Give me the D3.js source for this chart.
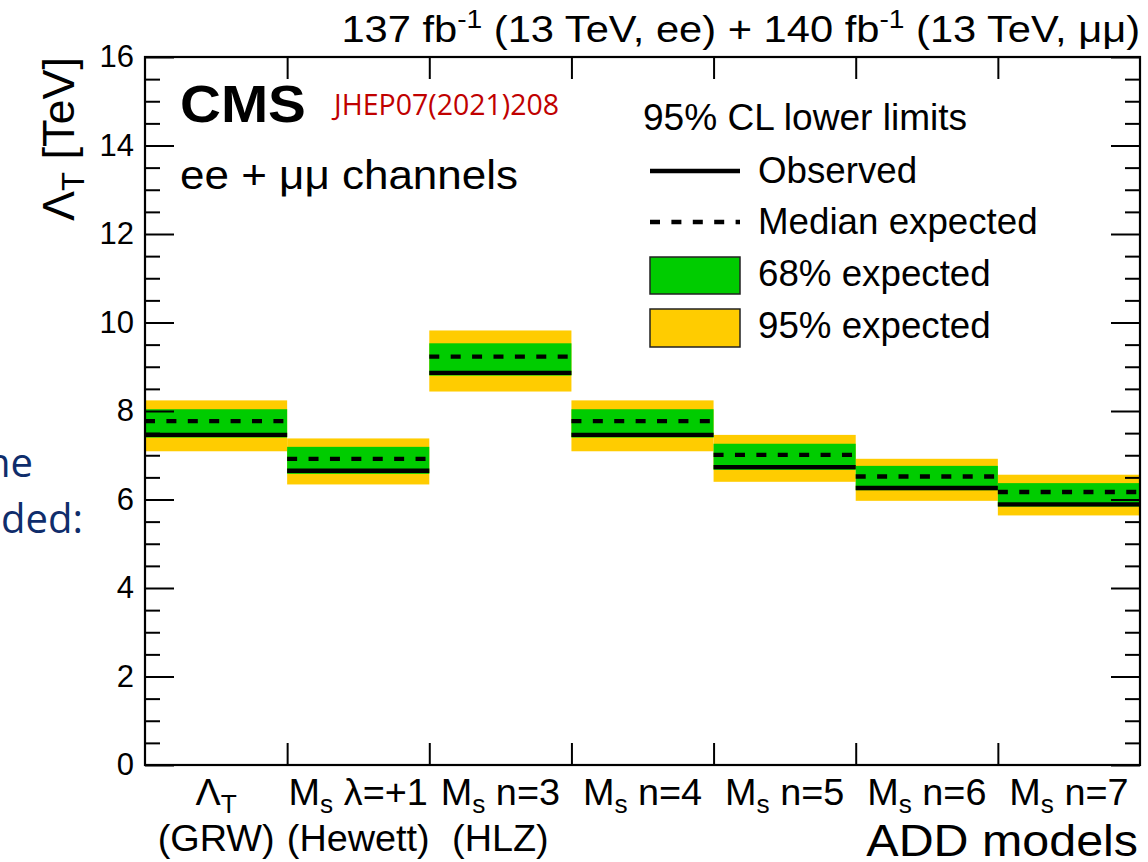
<!DOCTYPE html>
<html>
<head>
<meta charset="utf-8">
<script src="https://cdn.jsdelivr.net/npm/d3@7"></script>
<style>
  html, body { margin: 0; padding: 0; background: #fff; }
  svg { display: block; }
  text { font-family: "Liberation Sans", Arial, Helvetica, sans-serif; }
</style>
</head>
<body>
<svg id="chart" width="1148" height="862"></svg>
<script>
// ---------------- data ----------------
const categories = ["GRW", "Hewett", "HLZ n=3", "n=4", "n=5", "n=6", "n=7"];
const labelMain = ["", "λ=+1", "n=3", "n=4", "n=5", "n=6", "n=7"];   // after M_s (Λ_T for the first)
const labelSub = ["(GRW)", "(Hewett)", "(HLZ)", "", "", "", ""];
const observed = [7.46, 6.65, 8.86, 7.46, 6.73, 6.26, 5.89];
const expected = [7.77, 6.92, 9.23, 7.77, 7.01, 6.52, 6.17];
const band68Lo = [7.40, 6.58, 8.80, 7.40, 6.67, 6.21, 5.84];
const band68Hi = [8.04, 7.19, 9.53, 8.04, 7.26, 6.76, 6.37];
const band95Lo = [7.09, 6.34, 8.44, 7.09, 6.40, 5.97, 5.64];
const band95Hi = [8.24, 7.38, 9.82, 8.24, 7.46, 6.92, 6.56];
const yMajorTicks = [0, 2, 4, 6, 8, 10, 12, 14, 16];
const legendItems = ["Observed", "Median expected", "68% expected", "95% expected"];

// ---------------- layout ----------------
const svg = d3.select("#chart");
const L = 145, R = 1140, T = 57, B = 765;
const GREEN = "#00cc00", YELLOW = "#ffcc00", NAVY = "#0f2d6b";

const x = d3.scaleBand().domain(categories).range([L, R]).padding(0);
const xb = d3.scaleLinear().domain([0, categories.length]).range([L, R]);
const y = d3.scaleLinear().domain([0, 16]).range([B, T]);

svg.append("rect").attr("width", 1148).attr("height", 862).attr("fill", "#fff");

// helper: text with horizontal stretch
function stext(parent, px, py, sx, anchor, size) {
  return parent.append("text")
    .attr("transform", `translate(${px},${py}) scale(${sx},1)`)
    .attr("text-anchor", anchor || "start")
    .style("font-size", size + "px");
}

// slide text bleeding in from the left
stext(svg, 33, 477, 1.0, "end", 40).style("font-family", "'Open Sans', sans-serif").attr("fill", NAVY).text("he");
stext(svg, 83, 533, 1.0, "end", 40).style("font-family", "'Open Sans', sans-serif").attr("fill", NAVY).text("ded:");

// bands
const g = svg.append("g");
g.selectAll("rect.b95").data(categories).join("rect").attr("class", "b95")
  .attr("x", d => x(d)).attr("width", x.bandwidth())
  .attr("y", (d, i) => y(band95Hi[i])).attr("height", (d, i) => y(band95Lo[i]) - y(band95Hi[i]))
  .attr("fill", YELLOW);
g.selectAll("rect.b68").data(categories).join("rect").attr("class", "b68")
  .attr("x", d => x(d)).attr("width", x.bandwidth())
  .attr("y", (d, i) => y(band68Hi[i])).attr("height", (d, i) => y(band68Lo[i]) - y(band68Hi[i]))
  .attr("fill", GREEN);
g.selectAll("line.exp").data(categories).join("line").attr("class", "exp")
  .attr("x1", d => x(d)).attr("x2", d => x(d) + x.bandwidth())
  .attr("y1", (d, i) => y(expected[i])).attr("y2", (d, i) => y(expected[i]))
  .attr("stroke", "#000").attr("stroke-width", 4.3).attr("stroke-dasharray", "10,11.4");
g.selectAll("line.obs").data(categories).join("line").attr("class", "obs")
  .attr("x1", d => x(d)).attr("x2", d => x(d) + x.bandwidth())
  .attr("y1", (d, i) => y(observed[i])).attr("y2", (d, i) => y(observed[i]))
  .attr("stroke", "#000").attr("stroke-width", 4.3);

// axes
const minorTicks = d3.range(0, 16.001, 0.5).filter(v => Math.abs(v / 2 - Math.round(v / 2)) > 1e-6);
const yLeft = svg.append("g").attr("transform", `translate(${L},0)`)
  .call(d3.axisLeft(y).tickValues(yMajorTicks).tickSize(-29).tickPadding(11).tickFormat(d3.format("d")));
yLeft.select(".domain").remove();
yLeft.selectAll("text").style("font-size", "31px").style("font-family", "'Liberation Sans', Arial, sans-serif").attr("fill", "#000");
yLeft.selectAll("line").attr("stroke-width", 2);
const yLeftMinor = svg.append("g").attr("transform", `translate(${L},0)`)
  .call(d3.axisLeft(y).tickValues(minorTicks).tickSize(-15).tickFormat(""));
yLeftMinor.select(".domain").remove();
yLeftMinor.selectAll("line").attr("stroke-width", 2);

const yRight = svg.append("g").attr("transform", `translate(${R},0)`)
  .call(d3.axisRight(y).tickValues(yMajorTicks).tickSize(-29).tickFormat(""));
yRight.select(".domain").remove();
yRight.selectAll("line").attr("stroke-width", 2);
const yRightMinor = svg.append("g").attr("transform", `translate(${R},0)`)
  .call(d3.axisRight(y).tickValues(minorTicks).tickSize(-15).tickFormat(""));
yRightMinor.select(".domain").remove();
yRightMinor.selectAll("line").attr("stroke-width", 2);

const xBottom = svg.append("g").attr("transform", `translate(0,${B})`)
  .call(d3.axisBottom(xb).tickValues(d3.range(1, categories.length)).tickSize(-22).tickFormat(""));
xBottom.select(".domain").remove();
xBottom.selectAll("line").attr("stroke-width", 2);
const xTop = svg.append("g").attr("transform", `translate(0,${T})`)
  .call(d3.axisTop(xb).tickValues(d3.range(1, categories.length)).tickSize(-22).tickFormat(""));
xTop.select(".domain").remove();
xTop.selectAll("line").attr("stroke-width", 2);

// frame
svg.append("rect").attr("x", L).attr("y", T).attr("width", R - L).attr("height", B - T)
  .attr("fill", "none").attr("stroke", "#000").attr("stroke-width", 2.2);

// x labels
categories.forEach((c, i) => {
  const cx = x(c) + x.bandwidth() / 2;
  const t = stext(svg, cx, 805, 1.05, "middle", 36);
  if (i === 0) {
    t.append("tspan").text("Λ");
    t.append("tspan").attr("dy", 8).style("font-size", "25px").text("T");
  } else {
    t.append("tspan").text("M");
    t.append("tspan").attr("dy", 8).style("font-size", "25px").text("s");
    t.append("tspan").attr("dy", -8).text(" " + labelMain[i]);
  }
  if (labelSub[i]) {
    stext(svg, cx, 851, 1.05, "middle", 36).text(labelSub[i]);
  }
});
stext(svg, 1138, 856, 1.1, "end", 44).text("ADD models");

// y title
const yt = svg.append("text").attr("transform", `translate(74,${T}) rotate(-90)`)
  .attr("text-anchor", "end").style("font-size", "45px");
yt.append("tspan").text("Λ");
yt.append("tspan").attr("dy", 10).style("font-size", "31px").text("T");
yt.append("tspan").attr("dy", -10).text(" [TeV]");

// top title
const tt = stext(svg, 1140, 42, 1.126, "end", 37);
tt.append("tspan").text("137 fb");
tt.append("tspan").attr("dy", -14).style("font-size", "25px").text("-1");
tt.append("tspan").attr("dy", 14).text(" (13 TeV, ee) + 140 fb");
tt.append("tspan").attr("dy", -14).style("font-size", "25px").text("-1");
tt.append("tspan").attr("dy", 14).text(" (13 TeV, μμ)");

// CMS labels
stext(svg, 180, 122, 1.09, "start", 52).style("font-weight", "bold").text("CMS");
stext(svg, 334, 115, 1.0, "start", 28.5).style("font-family", "'Open Sans', sans-serif")
  .attr("fill", "#c00000").text("JHEP07(2021)208");
stext(svg, 180, 189, 1.1, "start", 40).text("ee + μμ channels");

// legend
const lg = svg.append("g");
stext(lg, 643, 130, 1.03, "start", 36).text("95% CL lower limits");
const rows = [183, 234, 286, 338];
lg.append("line").attr("x1", 650).attr("x2", 740).attr("y1", 171).attr("y2", 171).attr("stroke", "#000").attr("stroke-width", 4.3);
lg.append("line").attr("x1", 650).attr("x2", 740).attr("y1", 222).attr("y2", 222).attr("stroke", "#000").attr("stroke-width", 4.3).attr("stroke-dasharray", "10,11.4");
lg.append("rect").attr("x", 650).attr("y", 257).attr("width", 90).attr("height", 37).attr("fill", GREEN).attr("stroke", "#222").attr("stroke-width", 1.5);
lg.append("rect").attr("x", 650).attr("y", 309).attr("width", 90).attr("height", 38).attr("fill", YELLOW).attr("stroke", "#222").attr("stroke-width", 1.5);
legendItems.forEach((t, i) => stext(lg, 758, rows[i], 1.02, "start", 36).text(t));
</script>
</body>
</html>
